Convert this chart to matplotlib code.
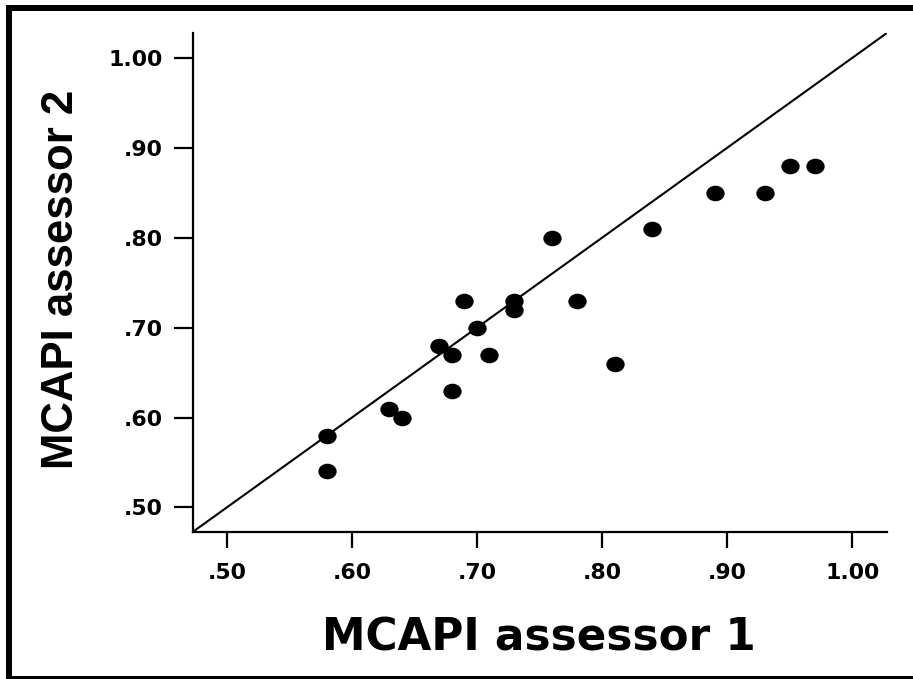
import matplotlib
matplotlib.use('Agg')
import matplotlib.pyplot as plt
from matplotlib.path import Path
from matplotlib.transforms import Affine2D
from matplotlib.patches import Rectangle

# values
assessor1 = [0.58, 0.58, 0.63, 0.64, 0.67, 0.68, 0.68, 0.69, 0.70, 0.71,
             0.73, 0.73, 0.76, 0.78, 0.81, 0.84, 0.89, 0.93, 0.95, 0.97]
assessor2 = [0.58, 0.54, 0.61, 0.60, 0.68, 0.67, 0.63, 0.73, 0.70, 0.67,
             0.73, 0.72, 0.80, 0.73, 0.66, 0.81, 0.85, 0.85, 0.88, 0.88]
ticks = [0.50, 0.60, 0.70, 0.80, 0.90, 1.00]
tick_labels = ['.50', '.60', '.70', '.80', '.90', '1.00']
lims = (0.4727, 1.0278)

fig = plt.figure(figsize=(9.13, 6.79), dpi=100)
ax = fig.add_axes([0.211, 0.2165, 0.7605, 0.735])

# points are drawn as flat ellipses like in the source picture
ellipse = Path.unit_circle().transformed(Affine2D().scale(1.0, 0.85))
ax.plot(assessor1, assessor2, linestyle='none', marker=ellipse,
        markersize=13.2, color='black', markeredgewidth=0)

# reference line y = x
ax.plot(lims, lims, color='black', lw=1.5, solid_capstyle='butt')

ax.set_xlim(lims)
ax.set_ylim(lims)
ax.set_xticks(ticks)
ax.set_yticks(ticks)
ax.set_xticklabels(tick_labels)
ax.set_yticklabels(tick_labels)

for s in ['top', 'right']:
    ax.spines[s].set_visible(False)
for s in ['left', 'bottom']:
    ax.spines[s].set_linewidth(1.6)

tick_font = dict(family='DejaVu Sans', weight='bold', size=15.8)
for lab in ax.get_xticklabels() + ax.get_yticklabels():
    lab.set_fontproperties(tick_font)
ax.tick_params(axis='x', length=11.5, width=1.6, pad=10.5)
ax.tick_params(axis='y', length=13.7, width=1.6, pad=7.9)

ax.set_xlabel('MCAPI assessor 1', family='DejaVu Sans', weight='bold',
              size=31.5, va='baseline')
ax.xaxis.set_label_coords(0.498, -0.2365)
ax.set_ylabel('MCAPI assessor 2', family='Liberation Sans', weight='bold',
              size=31.5, va='baseline')
ax.yaxis.set_label_coords(-0.1724, 0.507)

# thick frame around the figure
fig.patches.append(Rectangle((9 / 913, 0), 1.2, (679 - 8) / 679,
                             transform=fig.transFigure, fill=False,
                             edgecolor='black', lw=4.3, clip_on=False))

fig.savefig('out.png', dpi=100)
